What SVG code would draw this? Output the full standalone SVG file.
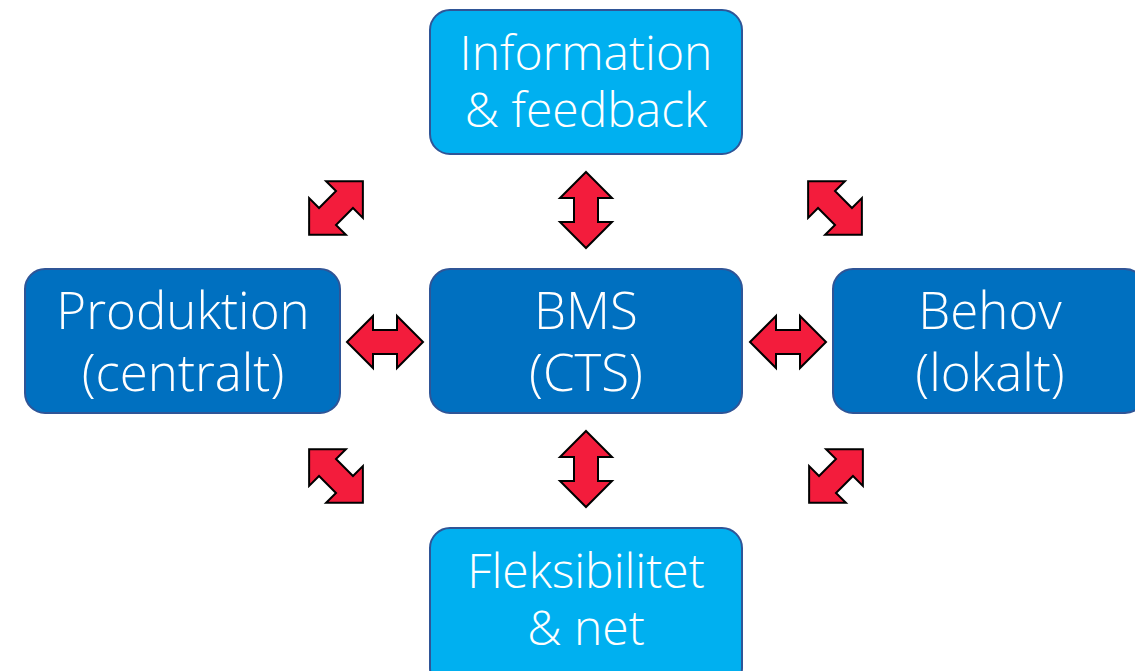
<svg xmlns="http://www.w3.org/2000/svg" width="1135" height="671" viewBox="0 0 1135 671">
<style>
.box{stroke:#2f5597;stroke-width:2}
.light{fill:#00b0f0}
.dark{fill:#0070c0}
.t{font-family:"Open Sans","Noto Sans","Liberation Sans",sans-serif;font-weight:300;font-size:48px;fill:#ffffff;text-anchor:middle}
.big{font-size:51px}
.arr{fill:#f31c3c;stroke:#000000;stroke-width:2;stroke-linejoin:miter}
</style>
<defs>
<polygon id="dbl" points="-38,0 -12,-26 -12,-12 12,-12 12,-26 38,0 12,26 12,12 -12,12 -12,26"/>
</defs>
<rect width="1135" height="671" fill="#ffffff"/>
<g id="info">
<rect class="box light" x="430" y="10" width="312" height="144" rx="20"/>
<text class="t" x="586" y="70">Information</text>
<text class="t" x="586" y="127">&amp; feedback</text>
</g>
<g id="bms">
<rect class="box dark" x="430" y="269" width="312" height="144" rx="20"/>
<text class="t big" x="586" y="329">BMS</text>
<text class="t big" x="586" y="391">(CTS)</text>
</g>
<g id="produktion">
<rect class="box dark" x="25" y="269" width="315" height="144" rx="20"/>
<text class="t big" x="183" y="329">Produktion</text>
<text class="t big" x="183" y="391">(centralt)</text>
</g>
<g id="behov">
<rect class="box dark" x="833" y="269" width="312" height="144" rx="20"/>
<text class="t big" x="990" y="329">Behov</text>
<text class="t big" x="990" y="391">(lokalt)</text>
</g>
<g id="fleksibilitet">
<rect class="box light" x="430" y="528" width="312" height="160" rx="20"/>
<text class="t" x="586" y="588">Fleksibilitet</text>
<text class="t" x="586" y="645">&amp; net</text>
</g>
<g id="connectors">
<use href="#dbl" class="arr" transform="translate(385,342)"/>
<use href="#dbl" class="arr" transform="translate(788,342)"/>
<use href="#dbl" class="arr" transform="translate(586,210) rotate(90)"/>
<use href="#dbl" class="arr" transform="translate(586,469) rotate(90)"/>
<use href="#dbl" class="arr" transform="translate(336,208) rotate(-45)"/>
<use href="#dbl" class="arr" transform="translate(835,208) rotate(45)"/>
<use href="#dbl" class="arr" transform="translate(336,476) rotate(45)"/>
<use href="#dbl" class="arr" transform="translate(836,476) rotate(-45)"/>
</g>
</svg>
